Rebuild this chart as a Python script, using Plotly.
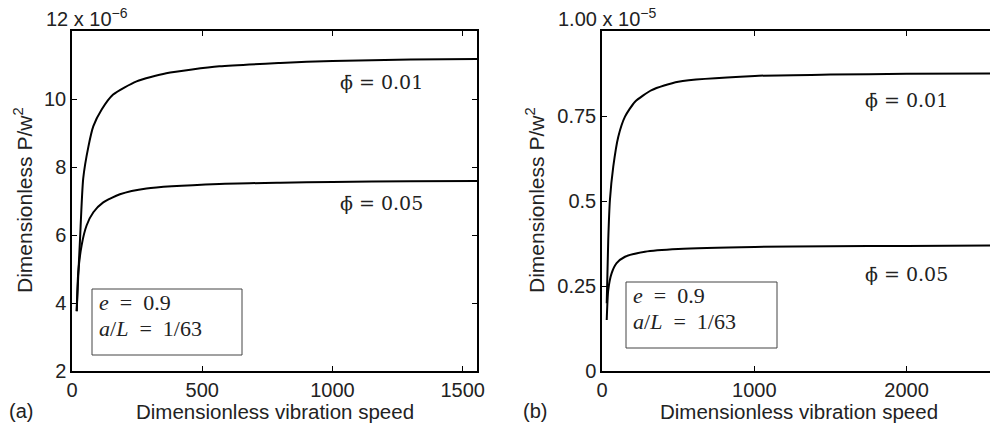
import plotly.graph_objects as go

# Panel (a): values in units of 1e-6
a_x_phi001 = [18, 24, 31, 43, 63, 82, 114, 158, 248, 362, 566, 800, 1000, 1300, 1555]
a_y_phi001 = [3.76, 4.8, 5.9, 7.66, 8.6, 9.2, 9.69, 10.13, 10.52, 10.76, 10.96, 11.06, 11.12, 11.16, 11.18]
a_x_phi005 = [18, 24, 37, 56, 82, 120, 184, 286, 566, 800, 1000, 1300, 1555]
a_y_phi005 = [3.76, 4.9, 5.7, 6.28, 6.67, 6.96, 7.2, 7.37, 7.5, 7.54, 7.56, 7.58, 7.59]

# Panel (b): values in units of 1e-5
b_x_phi001 = [31, 41, 52, 74, 107, 151, 217, 326, 501, 1004, 1500, 2000, 2550]
b_y_phi001 = [0.199, 0.385, 0.503, 0.601, 0.689, 0.748, 0.792, 0.826, 0.851, 0.868, 0.872, 0.874, 0.875]
b_x_phi005 = [31, 41, 63, 96, 151, 282, 501, 1004, 1500, 2000, 2550]
b_y_phi005 = [0.15, 0.238, 0.287, 0.317, 0.336, 0.351, 0.359, 0.365, 0.367, 0.368, 0.369]

a_xticks = [0, 500, 1000, 1500]
a_yticks = [2, 4, 6, 8, 10]
b_xticks = [0, 1000, 2000]
b_yticks = [0, 0.25, 0.5, 0.75]
b_yticklabels = ["0", "0.25", "0.5", "0.75"]

W, H = 990, 428
SANS = "Liberation Sans, Arial, sans-serif"
SERIF = "DejaVu Serif, serif"
SERIF2 = "Liberation Serif, DejaVu Serif, serif"
SP = "\u2002"

def px(x):
    return x / W

def py(y):
    return 1 - y / H

fig = go.Figure()
line = dict(color="black", width=2)
for xs, ys, xa, ya in [(a_x_phi001, a_y_phi001, "x", "y"), (a_x_phi005, a_y_phi005, "x", "y"),
                       (b_x_phi001, b_y_phi001, "x2", "y2"), (b_x_phi005, b_y_phi005, "x2", "y2")]:
    fig.add_trace(go.Scatter(x=xs, y=ys, mode="lines", line=dict(line, shape="spline", smoothing=0.6),
                             xaxis=xa, yaxis=ya, showlegend=False, hoverinfo="skip"))

ydom = [py(371), py(31)]
axcommon = dict(showgrid=False, zeroline=False, showline=True, linecolor="black", linewidth=1.5,
                automargin=False, ticks="inside", ticklen=5, tickcolor="black",
                tickfont=dict(family=SANS, size=20, color="#222"))

fig.update_layout(
    template="none",
    width=W, height=H, margin=dict(l=0, r=0, t=0, b=0, pad=0), autosize=False,
    plot_bgcolor="white", paper_bgcolor="white",
    xaxis=dict(axcommon, domain=[px(72), px(477)], range=[0, 1555], tickvals=a_xticks,
               mirror="allticks", anchor="y"),
    yaxis=dict(axcommon, domain=ydom, range=[2, 12], tickvals=a_yticks,
               mirror="allticks", anchor="x"),
    xaxis2=dict(axcommon, domain=[px(602), 1.0], range=[0, 2548], tickvals=b_xticks,
                mirror="allticks", anchor="y2"),
    yaxis2=dict(axcommon, domain=ydom, range=[0, 1.0], tickvals=b_yticks, ticktext=b_yticklabels,
                mirror=False, anchor="x2"),
)

anns = []
def ann(text, x, y, size=20, family=SANS, xanchor="center", yanchor="middle", angle=0, color="#222"):
    anns.append(dict(text=text, x=px(x), y=py(y), xref="paper", yref="paper", showarrow=False,
                     xanchor=xanchor, yanchor=yanchor, textangle=angle,
                     font=dict(family=family, size=size, color=color)))

# exponent labels
ann("12 x 10<sup>−6</sup>", 44, 17, xanchor="left")
ann("1.00 x 10<sup>−5</sup>", 556, 17, xanchor="left")
# axis titles
ann("Dimensionless vibration speed", 275, 411, size=20.5)
ann("Dimensionless vibration speed", 799, 411, size=20.5)
ann("Dimensionless P/w<sup>2</sup>", 23, 200, size=21, angle=-90)
ann("Dimensionless P/w<sup>2</sup>", 535, 200, size=21, angle=-90)
# panel labels
ann("(a)", 7, 411, xanchor="left")
ann("(b)", 521, 411, xanchor="left")
# curve labels
ann("ϕ̄ = 0.01", 381, 82, size=19, family=SERIF)
ann("ϕ̄ = 0.05", 381, 203, size=19, family=SERIF)
ann("ϕ̄ = 0.01", 906, 100, size=19, family=SERIF)
ann("ϕ̄ = 0.05", 906, 274, size=19, family=SERIF)
# parameter boxes
ann(f"<i>e</i>{SP}={SP}0.9", 97, 302, size=22, family=SERIF2, xanchor="left")
ann(f"<i>a</i>/<i>L</i>{SP}={SP}1/63", 97, 328, size=22, family=SERIF2, xanchor="left")
ann(f"<i>e</i>{SP}={SP}0.9", 631, 295, size=22, family=SERIF2, xanchor="left")
ann(f"<i>a</i>/<i>L</i>{SP}={SP}1/63", 631, 321, size=22, family=SERIF2, xanchor="left")
fig.update_layout(annotations=anns)

fig.update_layout(shapes=[
    dict(type="rect", xref="paper", yref="paper", x0=px(92), x1=px(242), y0=py(355), y1=py(289),
         line=dict(color="#444", width=1)),
    dict(type="rect", xref="paper", yref="paper", x0=px(626), x1=px(777), y0=py(348), y1=py(282),
         line=dict(color="#444", width=1)),
])

fig.write_html("out.html", config={"displayModeBar": False},
               post_script="document.body.style.margin='0';document.body.style.overflow='hidden';")
